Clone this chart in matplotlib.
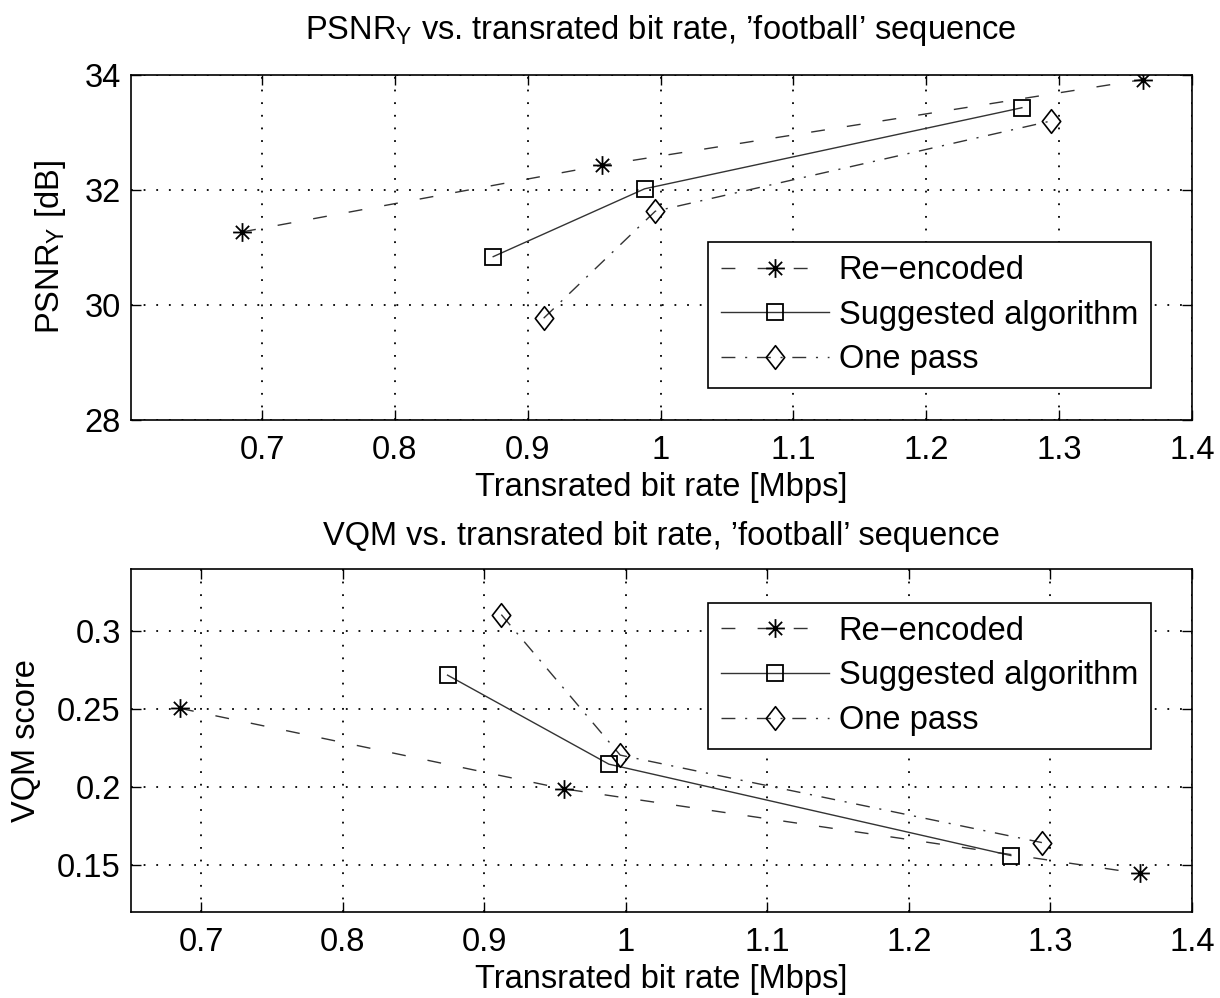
import matplotlib
matplotlib.use("Agg")
import matplotlib.pyplot as plt
import numpy as np
from matplotlib.path import Path

plt.rcParams['font.family'] = ['Liberation Sans', 'DejaVu Sans']
plt.rcParams['mathtext.fontset'] = 'custom'
plt.rcParams['mathtext.rm'] = 'Liberation Sans'
plt.rcParams['mathtext.it'] = 'Liberation Sans:italic'

# ---- data ----
rate_reenc = [0.685, 0.956, 1.363]
rate_sugg = [0.874, 0.988, 1.272]
rate_one = [0.912, 0.996, 1.294]

psnr_reenc = [31.27, 32.43, 33.92]
psnr_sugg = [30.84, 32.02, 33.43]
psnr_one = [29.77, 31.63, 33.20]

vqm_reenc = [0.2506, 0.199, 0.1447]
vqm_sugg = [0.2719, 0.2148, 0.1562]
vqm_one = [0.3107, 0.2206, 0.1645]

labels = ['Re\u2212encoded', 'Suggested algorithm', 'One pass']
xticks = [0.7, 0.8, 0.9, 1.0, 1.1, 1.2, 1.3, 1.4]
xticklabels = ['0.7', '0.8', '0.9', '1', '1.1', '1.2', '1.3', '1.4']
yticks_top = [28, 30, 32, 34]
yticks_bot = [0.15, 0.2, 0.25, 0.3]
yticklabels_bot = ['0.15', '0.2', '0.25', '0.3']

# 8-spoke asterisk marker (MATLAB '*')
ang = np.deg2rad([0, 45, 90, 135])
verts, codes = [], []
for a in ang:
    verts += [(-np.cos(a), -np.sin(a)), (np.cos(a), np.sin(a))]
    codes += [Path.MOVETO, Path.LINETO]
star = Path(verts, codes)
# MATLAB-like diamond (slightly narrower than tall)
diamond = Path([(0, 1), (0.78, 0), (0, -1), (-0.78, 0), (0, 1)],
               [Path.MOVETO, Path.LINETO, Path.LINETO, Path.LINETO, Path.CLOSEPOLY])

fig = plt.figure(figsize=(12.2, 9.98), dpi=100)
ax1 = fig.add_axes([0.107, 0.5792, 0.870, 0.3457])
ax2 = fig.add_axes([0.107, 0.0862, 0.870, 0.3437])

FS = 23.5
lw = 1.0
LC = '#333333'

def draw(ax, yr, ys, yo):
    ax.plot(rate_reenc, yr, linestyle=(0, (10, 16)), color=LC, lw=lw,
            marker=star, markersize=13.5, markeredgewidth=1.3, markeredgecolor='black',
            label=labels[0])
    ax.plot(rate_sugg, ys, linestyle='-', color=LC, lw=lw,
            marker='s', markersize=12, markerfacecolor='none', markeredgewidth=1.3,
            markeredgecolor='black', label=labels[1])
    ax.plot(rate_one, yo, linestyle=(0, (10, 7, 1.5, 7)), color=LC, lw=lw,
            marker=diamond, markersize=17, markerfacecolor='none', markeredgewidth=1.2,
            markeredgecolor='black', label=labels[2])
    ax.grid(True, color='black', linestyle=(0, (1, 6)), linewidth=1.3)
    ax.set_axisbelow(True)
    ax.tick_params(direction='in', top=True, right=True, length=7, width=1.0,
                   labelsize=FS)
    ax.tick_params(axis='x', pad=11)
    ax.tick_params(axis='y', pad=7)
    for s in ax.spines.values():
        s.set_linewidth(1.2)
    ax.set_xticks(xticks)
    ax.set_xticklabels(xticklabels)
    ax.set_xlabel('Transrated bit rate [Mbps]', fontsize=FS, labelpad=4)

draw(ax1, psnr_reenc, psnr_sugg, psnr_one)
ax1.set_xlim(0.601, 1.4)
ax1.set_ylim(28, 34)
ax1.set_yticks(yticks_top)
ax1.set_ylabel('PSNR$_\\mathrm{Y}$ [dB]', fontsize=FS, labelpad=12)
ax1.set_title("PSNR$_\\mathrm{Y}$ vs. transrated bit rate, \u2019football\u2019 sequence",
              fontsize=FS, pad=26)

draw(ax2, vqm_reenc, vqm_sugg, vqm_one)
ax2.set_xlim(0.65, 1.4)
ax2.set_ylim(0.12, 0.34)
ax2.set_yticks(yticks_bot)
ax2.set_yticklabels(yticklabels_bot)
ax2.set_ylabel('VQM score', fontsize=FS, labelpad=11)
ax2.set_title("VQM vs. transrated bit rate, \u2019football\u2019 sequence",
              fontsize=FS, pad=17)

for ax, anchor in [(ax1, (0.5443, 0.516)), (ax2, (0.5443, 0.902))]:
    leg = ax.legend(loc='upper left', bbox_to_anchor=anchor, fontsize=FS,
                    numpoints=1, handlelength=3.3, handletextpad=0.3,
                    borderpad=0.4, labelspacing=0.42, borderaxespad=0,
                    fancybox=False, framealpha=1, edgecolor='black')
    leg.get_frame().set_linewidth(1.2)

fig.savefig('out.png', dpi=100)
